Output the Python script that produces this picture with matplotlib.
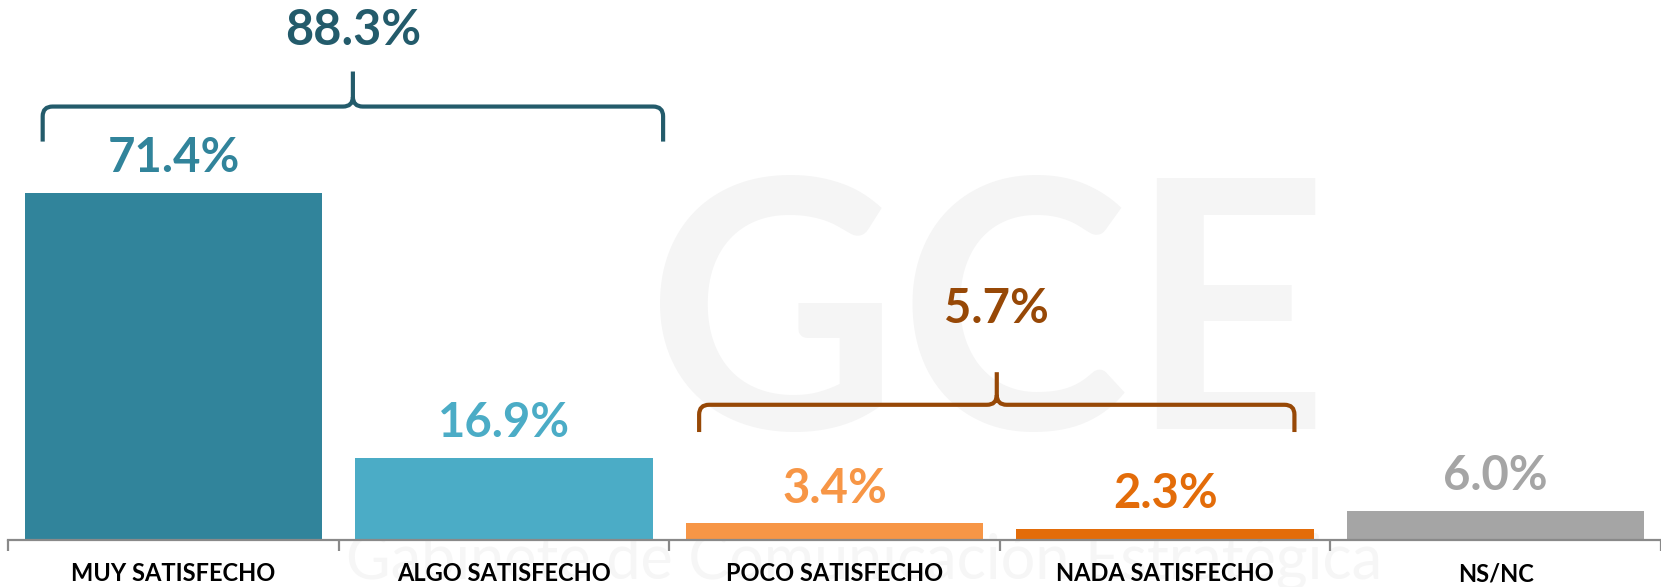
import matplotlib.pyplot as plt
from matplotlib.path import Path
from matplotlib.patches import PathPatch

plt.rcParams['font.family'] = ['Lato', 'DejaVu Sans']

# data
categorias = ['MUY SATISFECHO', 'ALGO SATISFECHO', 'POCO SATISFECHO', 'NADA SATISFECHO', 'NS/NC']
valores = [71.4, 16.9, 3.4, 2.3, 6.0]
colores = ['#31849B', '#4BACC6', '#F79646', '#E36C09', '#A5A5A5']
grupo_satisfecho = [0, 1]
grupo_insatisfecho = [2, 3]


def draw_brace(ax, x0, x1, y, ytip, yend, color):
    xc = (x0 + x1) / 2
    rx, ry = 0.03, 2.0
    verts = [
        (x0, yend), (x0, y - ry), (x0, y), (x0 + rx, y),
        (xc - rx, y), (xc, y), (xc, y + ry), (xc, ytip),
        (xc, y + ry), (xc, y), (xc + rx, y),
        (x1 - rx, y), (x1, y), (x1, y - ry), (x1, yend),
    ]
    codes = [Path.MOVETO, Path.LINETO, Path.CURVE3, Path.CURVE3,
             Path.LINETO, Path.CURVE3, Path.CURVE3, Path.LINETO,
             Path.MOVETO, Path.CURVE3, Path.CURVE3,
             Path.LINETO, Path.CURVE3, Path.CURVE3, Path.LINETO]
    ax.add_patch(PathPatch(Path(verts, codes), facecolor='none', edgecolor=color,
                           lw=3, capstyle='butt', joinstyle='round', zorder=3))


fig = plt.figure(figsize=(16.61, 5.87), dpi=100)
ax = fig.add_axes([0.005, 0.08, 0.995, 0.92])

# faint watermark behind the chart
fig.text(0.595, 0.44, 'GCE', fontsize=250, fontweight='bold', color='#f5f5f5',
         ha='center', va='center', zorder=-5)
fig.text(0.52, -0.005, 'Gabinete de Comunicación Estratégica', fontsize=44,
         color='#f6f6f6', ha='center', va='bottom', zorder=-5)

x = list(range(len(categorias)))
ax.bar(x, valores, width=0.9, color=colores, zorder=2)

for xi, v, c in zip(x, valores, colores):
    ax.annotate(f'{v:.1f}%', (xi, v), xytext=(0, 15), textcoords='offset points',
                ha='center', va='baseline', fontsize=34, fontweight='bold', color=c)

# braces with group totals
tot1 = sum(valores[i] for i in grupo_satisfecho)
draw_brace(ax, -0.396, 1.481, 89.1, 96.3, 81.9, '#235B6B')
ax.text(0.543, 101.7, f'{tot1:.1f}%', ha='center', va='baseline', fontsize=35,
        fontweight='bold', color='#235B6B')

tot2 = sum(valores[i] for i in grupo_insatisfecho)
draw_brace(ax, 1.590, 3.391, 27.8, 34.5, 22.2, '#974806')
ax.text(2.49, 44.6, f'{tot2:.1f}%', ha='center', va='baseline', fontsize=34,
        fontweight='bold', color='#974806')

ax.set_xlim(-0.5, 4.5)
ax.set_ylim(0, 111)
ax.patch.set_alpha(0)
for s in ['top', 'right', 'left']:
    ax.spines[s].set_visible(False)
ax.spines['bottom'].set_color('#898989')
ax.spines['bottom'].set_linewidth(1.6)
ax.set_yticks([])
ax.set_xticks(x)
ax.set_xticklabels(categorias, fontsize=17, fontweight='bold')
ax.tick_params(axis='x', which='major', length=0, pad=16)
ax.set_xticks([i - 0.5 for i in range(len(categorias) + 1)], minor=True)
ax.tick_params(axis='x', which='minor', length=8, width=1.6, color='#898989')

fig.savefig('out.png', dpi=100)
